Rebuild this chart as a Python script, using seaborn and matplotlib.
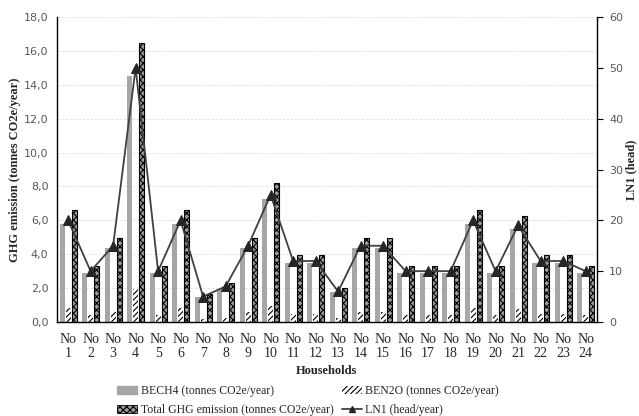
import numpy as np
import pandas as pd
import matplotlib
matplotlib.use("Agg")
import matplotlib.pyplot as plt
import seaborn as sns
from matplotlib.ticker import FuncFormatter, MultipleLocator
from matplotlib.patches import Patch
from matplotlib.lines import Line2D

households = [f"No\n{i}" for i in range(1, 25)]
bech4 = [5.8, 2.9, 4.35, 14.5, 2.9, 5.8, 1.45, 1.95, 4.35, 7.25, 3.5, 3.5,
         1.75, 4.35, 4.35, 2.9, 2.9, 2.9, 5.8, 2.9, 5.5, 3.5, 3.5, 2.9]
ben2o = [0.8, 0.4, 0.6, 1.95, 0.4, 0.8, 0.2, 0.25, 0.6, 0.95, 0.5, 0.5,
         0.25, 0.6, 0.6, 0.4, 0.4, 0.4, 0.8, 0.4, 0.75, 0.5, 0.5, 0.4]
total = [6.6, 3.3, 4.95, 16.45, 3.3, 6.6, 1.65, 2.3, 4.95, 8.2, 3.95, 3.95,
         2.0, 4.95, 4.95, 3.3, 3.3, 3.3, 6.6, 3.3, 6.25, 3.95, 3.95, 3.3]
ln1 = [20, 10, 15, 50, 10, 20, 5, 7, 15, 25, 12, 12,
       6, 15, 15, 10, 10, 10, 20, 10, 19, 12, 12, 10]

series_names = ["BECH4 (tonnes CO2e/year)", "BEN2O (tonnes CO2e/year)",
                "Total GHG emission (tonnes CO2e/year)"]
df = pd.DataFrame({
    "Household": households * 3,
    "Series": [series_names[0]] * 24 + [series_names[1]] * 24 + [series_names[2]] * 24,
    "Value": bech4 + ben2o + total,
})

sns.set_style("white")
plt.rcParams["hatch.linewidth"] = 0.8
serif = ["Liberation Serif", "DejaVu Serif"]

fig = plt.figure(figsize=(6.39, 4.16), dpi=100)
ax = fig.add_axes([0.089, 0.226, 0.845, 0.733])

sns.barplot(data=df, x="Household", y="Value", hue="Series", ax=ax,
            palette=["#a6a6a6", "white", "#8c8c8c"], width=0.8, gap=0.15,
            legend=False, saturation=1)

styles = [
    dict(fc="#a6a6a6", ec="#a6a6a6", hatch=None, lw=0.0),
    dict(fc="white", ec="black", hatch="//////", lw=0.0),
    dict(fc="#9a9a9a", ec="black", hatch="xxxxx", lw=0.8),
]
for cont, st in zip(ax.containers, styles):
    for p in cont:
        p.set_facecolor(st["fc"])
        p.set_edgecolor(st["ec"])
        p.set_linewidth(st["lw"])
        if st["hatch"]:
            p.set_hatch(st["hatch"])

ax.set_ylim(0, 18)
ax.set_xlim(-0.5, 23.5)
ax.yaxis.set_major_locator(MultipleLocator(2))
ax.yaxis.set_major_formatter(FuncFormatter(lambda v, _: f"{v:.1f}".replace(".", ",")))
ax.grid(axis="y", color="#dedede", linestyle=(0, (3, 2)), linewidth=0.6)
ax.set_axisbelow(True)
for s in ["top", "right"]:
    ax.spines[s].set_visible(False)
for s in ["left", "bottom"]:
    ax.spines[s].set_color("black")
    ax.spines[s].set_linewidth(1.0)
ax.tick_params(axis="y", length=0, labelsize=8, labelcolor="#595959", pad=6)
ax.tick_params(axis="x", length=0, pad=8)
for t in ax.get_xticklabels():
    t.set_fontfamily(serif)
    t.set_fontsize(10)
    t.set_linespacing(1.05)
ax.set_ylabel("GHG emission (tonnes CO2e/year)", fontfamily=serif,
              fontweight="bold", fontsize=9, labelpad=2)
ax.set_xlabel("Households", fontfamily=serif, fontweight="bold", fontsize=9, labelpad=4)

ax2 = ax.twinx()
sns.lineplot(x=np.arange(24), y=ln1, ax=ax2, color="#404040", linewidth=1.3,
             marker="^", markersize=7, markeredgecolor="#262626",
             markerfacecolor="#262626", label="LN1 (head/year)", legend=False)
ax2.set_ylim(0, 60)
ax2.yaxis.set_major_locator(MultipleLocator(10))
for s in ["top", "left", "bottom"]:
    ax2.spines[s].set_visible(False)
ax2.spines["right"].set_color("black")
ax2.spines["right"].set_linewidth(1.0)
ax2.tick_params(axis="y", length=4, width=0.8, direction="out", labelsize=8,
                labelcolor="#595959", color="black", pad=5)
ax2.set_ylabel("LN1 (head)", fontfamily=serif, fontweight="bold", fontsize=9, labelpad=1)
ax2.grid(False)

handles = [
    Patch(facecolor="#a6a6a6", edgecolor="#a6a6a6", label=series_names[0]),
    Patch(facecolor="white", edgecolor="black", hatch="//////", lw=0, label=series_names[1]),
    Patch(facecolor="#9a9a9a", edgecolor="black", hatch="xxxxx", lw=0.6, label=series_names[2]),
    Line2D([0], [0], color="#404040", lw=1.3, marker="^", markersize=5,
           markerfacecolor="#262626", markeredgecolor="#262626", label="LN1 (head/year)"),
]
order = [handles[0], handles[2], handles[1], handles[3]]
fig.legend(handles=order, loc="upper left", bbox_to_anchor=(0.176, 0.085),
           ncol=2, frameon=False, prop={"family": serif, "size": 8.5},
           handlelength=1.7, handleheight=0.7, handletextpad=0.3,
           columnspacing=0.7, labelspacing=0.6, borderaxespad=0)

fig.savefig("out.png", dpi=100)
